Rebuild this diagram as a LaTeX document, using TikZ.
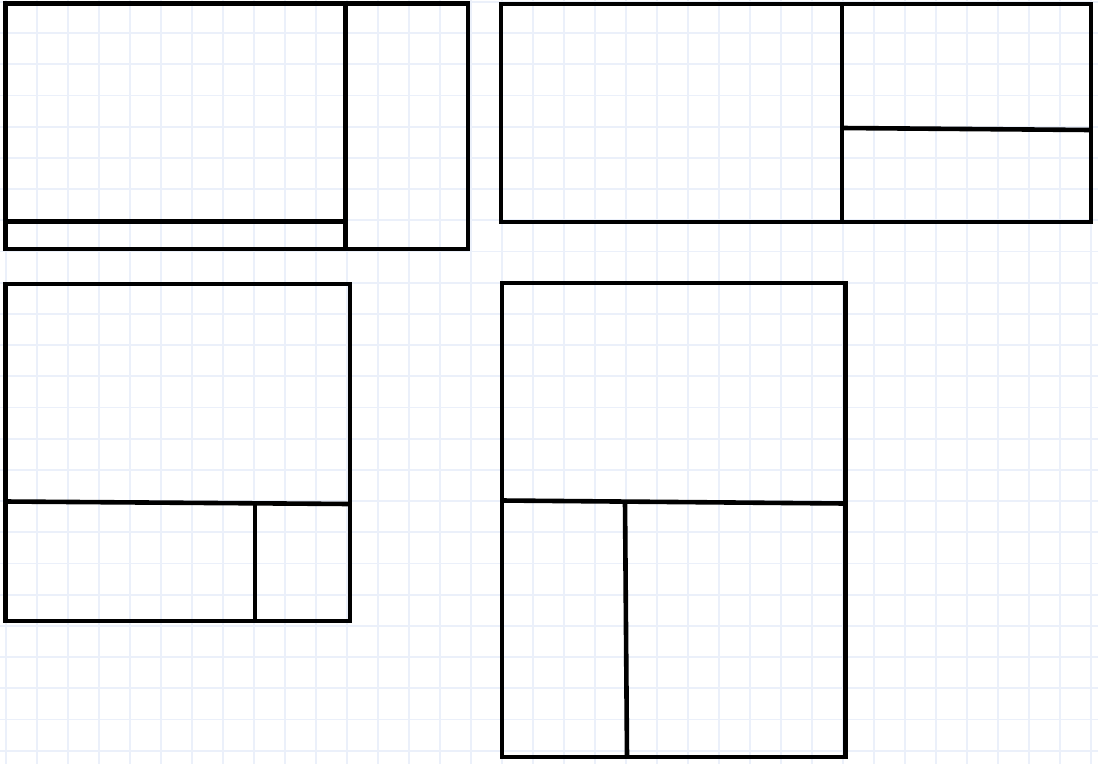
\documentclass[tikz,border=0pt]{standalone}
\definecolor{gridblue}{RGB}{235,240,250}
\tikzset{
  gridline/.style={draw=gridblue, line width=1.8pt},
  frame/.style={draw=black, line width=4.8pt, line join=miter},
  divider/.style={draw=black, line width=4.6pt}
}
\begin{document}
\begin{tikzpicture}[x=1pt,y=-1pt]
\useasboundingbox (0,0) rectangle (1098,764);
\fill[white] (0,0) rectangle (1098,764);
% grid
\foreach \i in {0,...,35} {
  \draw[gridline] ({5.7+31.0*\i},0) -- ({5.7+31.0*\i},764);
}
\foreach \j in {0,...,24} {
  \draw[gridline] (0,{1.8+31.2*\j}) -- (1098,{1.8+31.2*\j});
}
% layout 1 (top left)
\draw[divider] (345.5,3.5) -- (345.5,249);
\draw[divider] (5.5,221.5) -- (345.5,221.5);
\draw[frame] (5.5,3.5) rectangle (468,249);
% layout 2 (top right)
\draw[divider] (842,4) -- (842,222);
\draw[divider] (842,128) -- (1091,130);
\draw[frame] (501,4) rectangle (1091,222);
% layout 3 (bottom left)
\draw[divider] (5.5,501.5) -- (350,504);
\draw[divider] (255,503) -- (255,621);
\draw[frame] (5.5,284) rectangle (350,621);
% layout 4 (bottom right)
\draw[divider] (502,500.5) -- (845.5,503.5);
\draw[divider] (625,501.5) -- (627,757);
\draw[frame] (502,283) rectangle (845.5,757);
\end{tikzpicture}
\end{document}
